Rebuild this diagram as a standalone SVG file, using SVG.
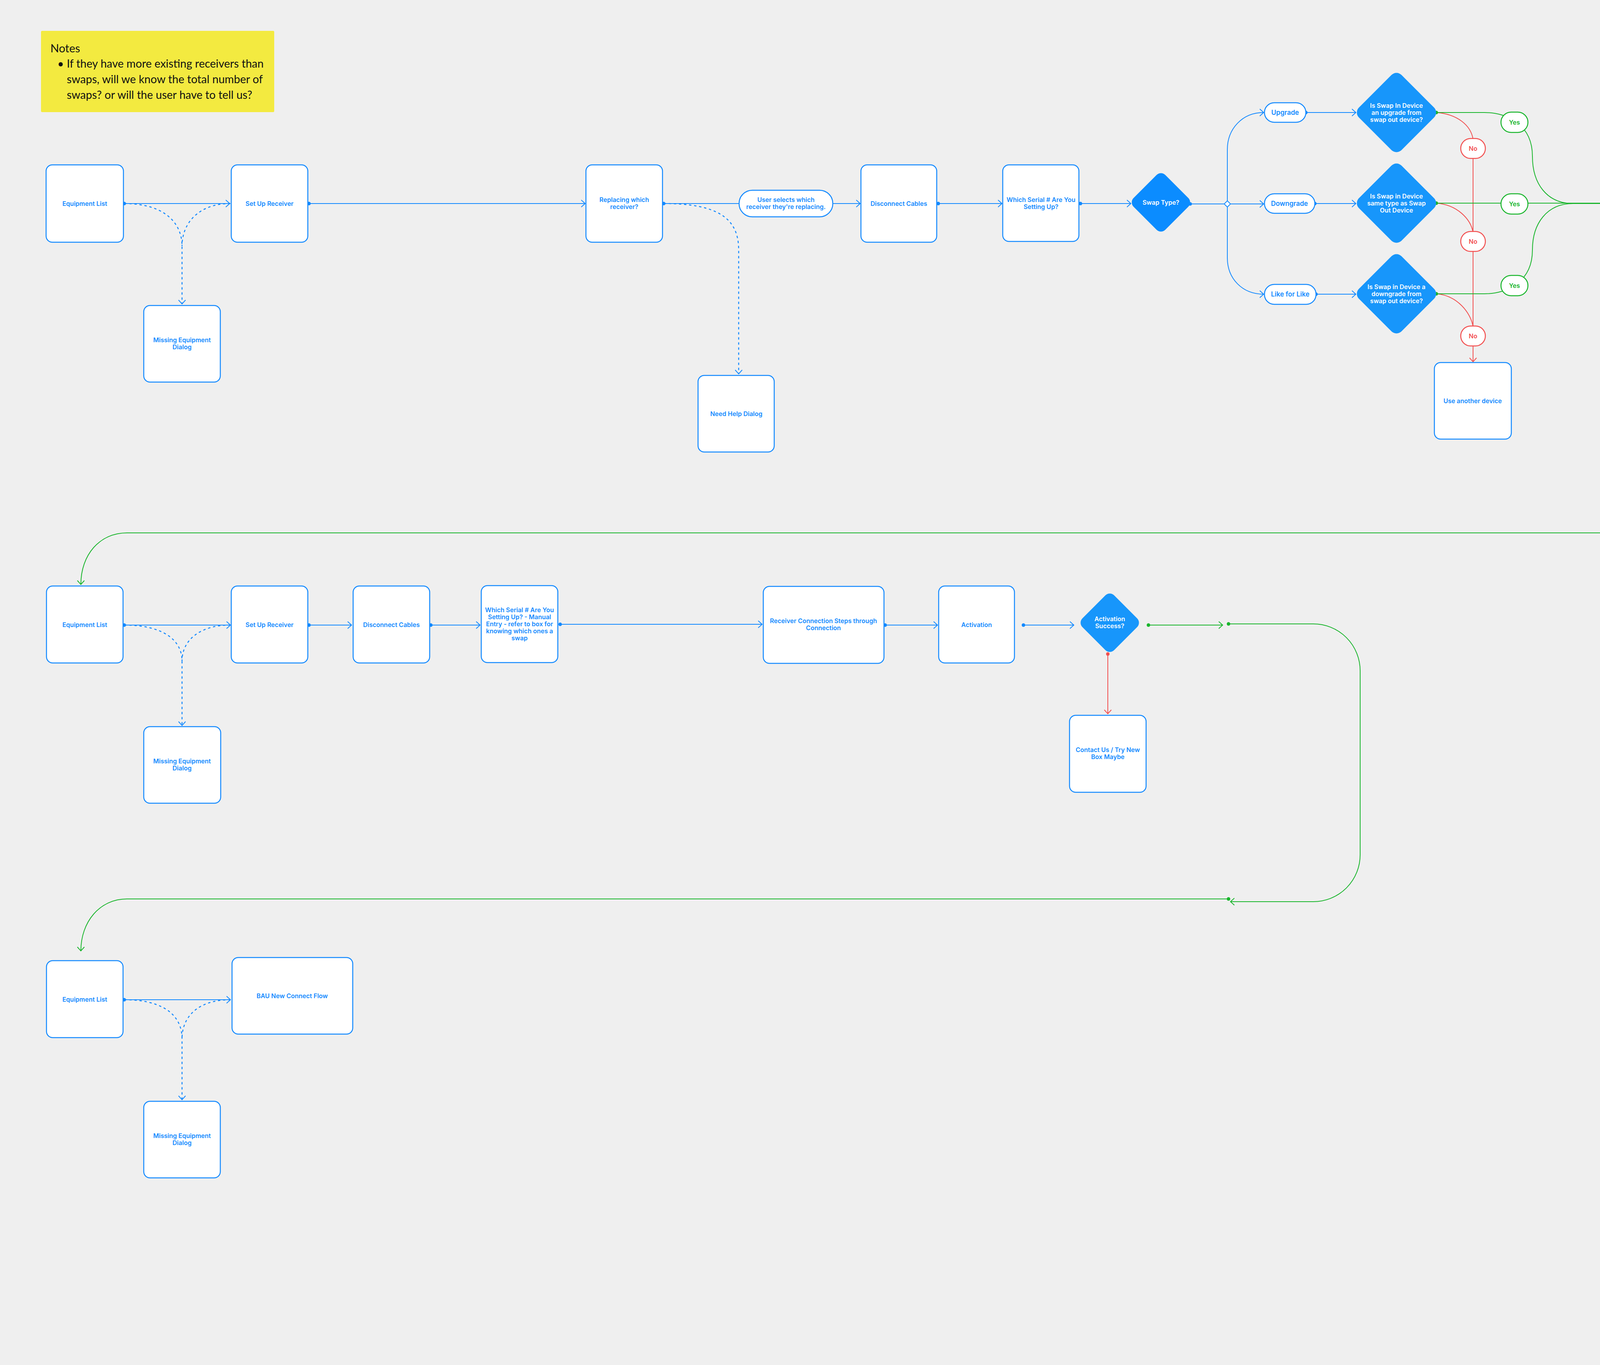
<svg xmlns="http://www.w3.org/2000/svg" width="5925" height="3494" viewBox="0 0 5925 3494">
<style>
.bg{fill:#efefef}
.box{fill:#fff;stroke:#1289ff;stroke-width:2.5}
.pill{fill:#fff;stroke:#1289ff;stroke-width:2.5}
.dia{fill:#1796fb}
.dia0{fill:#0b8cff}
.t{font-family:Inter,"Noto Sans",sans-serif;font-size:16px;font-weight:600;fill:#1289ff;text-anchor:middle}
.tw{font-family:Inter,"Noto Sans",sans-serif;font-size:16px;font-weight:600;fill:#fff;text-anchor:middle}
.tp{font-family:Inter,"Noto Sans",sans-serif;font-size:17px;font-weight:600;fill:#1289ff;text-anchor:middle}
.yes{fill:#fff;stroke:#18b52b;stroke-width:2.5}
.no{fill:#fff;stroke:#f24f4f;stroke-width:2.5}
.ty{font-family:Inter,"Noto Sans",sans-serif;font-size:16px;font-weight:600;fill:#18b52b;text-anchor:middle}
.tn{font-family:Inter,"Noto Sans",sans-serif;font-size:16px;font-weight:600;fill:#f24f4f;text-anchor:middle}
.note{fill:#f3ea40}
.nt{font-family:Lato,"Noto Sans",sans-serif;font-size:28.5px;fill:#111}
.nh{font-family:Lato,"Noto Sans",sans-serif;font-size:29px;fill:#111}
.cb{fill:none;stroke:#1289ff;stroke-width:2}
.cd{fill:none;stroke:#1289ff;stroke-width:2.5;stroke-dasharray:6 7}
.cg{fill:none;stroke:#18b52b;stroke-width:2}
.cr{fill:none;stroke:#f24f4f;stroke-width:2}
.db{fill:#1289ff}
.dg{fill:#18b52b}
.dr{fill:#f24f4f}
</style>
<defs>
<marker id="ab" markerUnits="userSpaceOnUse" markerWidth="16" markerHeight="22" viewBox="-13 -11 16 22" refX="0" refY="0" orient="auto"><path d="M-10,-9 L0,0 L-10,9" fill="none" stroke="#1289ff" stroke-width="2"/></marker>
<marker id="ag" markerUnits="userSpaceOnUse" markerWidth="16" markerHeight="22" viewBox="-13 -11 16 22" refX="0" refY="0" orient="auto"><path d="M-10,-9 L0,0 L-10,9" fill="none" stroke="#18b52b" stroke-width="2"/></marker>
<marker id="ar" markerUnits="userSpaceOnUse" markerWidth="16" markerHeight="22" viewBox="-13 -11 16 22" refX="0" refY="0" orient="auto"><path d="M-10,-9 L0,0 L-10,9" fill="none" stroke="#f24f4f" stroke-width="2"/></marker>
</defs>
<rect class="bg" x="0" y="0" width="5925" height="3494"/>

<g id="connectors">
<path class="cb" d="M318,521 H588" marker-end="url(#ab)"/>
<path class="cd" d="M318,521 C420,521 466,570 466,630 V778" marker-end="url(#ab)"/>
<path class="cd" d="M590,521 C510,521 466,570 466,630"/>
<path class="cb" d="M791,521 H1498" marker-end="url(#ab)"/>
<path class="cb" d="M1699,521 H2202" marker-end="url(#ab)"/>
<path class="cd" d="M1699,521 C1840,521 1891,560 1891,640 V957" marker-end="url(#ab)"/>
<path class="cb" d="M2402,521 H2565" marker-end="url(#ab)"/>
<path class="cb" d="M2766,521 H2895" marker-end="url(#ab)"/>
<path class="cb" d="M3047,522 H3235" marker-end="url(#ab)"/>
<path class="cb" d="M3142,522 V383 C3142,330 3180,288 3235,288" marker-end="url(#ab)"/>
<path class="cb" d="M3142,522 V660 C3142,713 3180,753 3235,753" marker-end="url(#ab)"/>
<path class="cb" d="M3343,288 H3471" marker-end="url(#ab)"/>
<path class="cb" d="M3366,521 H3471" marker-end="url(#ab)"/>
<path class="cb" d="M3369,753 H3471" marker-end="url(#ab)"/>
<path class="cb" d="M4482,521 H4612" marker-end="url(#ab)"/>
<path class="cb" d="M4836,521 H4963" marker-end="url(#ab)"/>
<path class="cr" d="M3677,288 C3730,292 3765,320 3771,356"/>
<path class="cr" d="M3677,520 C3730,524 3765,560 3771,595"/>
<path class="cr" d="M3677,752 C3730,756 3765,800 3771,836"/>
<path class="cr" d="M3771,356 V926" marker-end="url(#ar)"/>
<path class="cr" d="M5052,596 V747" marker-end="url(#ar)"/>
<path class="cg" d="M3677,288 H3800 C3860,288 3923,320 3923,400 C3923,470 3960,521 4027,521 H4168" marker-end="url(#ag)"/>
<path class="cg" d="M3677,520 H4168" marker-end="url(#ag)"/>
<path class="cg" d="M3677,752 H3800 C3860,752 3923,720 3923,640 C3923,572 3960,521 4027,521"/>
<path class="cg" d="M5155,522 H5346" marker-end="url(#ag)"/>
<path class="cg" d="M5355,530 H5573 A120,120 0 0 1 5693,650 V1248 A120,120 0 0 1 5573,1368 H5362" marker-end="url(#ag)"/>
<path class="cg" d="M5361,1364 H325 C255,1364 207,1420 207,1496" marker-end="url(#ag)"/>
<path class="cb" d="M318,1600 H590" marker-end="url(#ab)"/>
<path class="cd" d="M318,1600 C420,1600 466,1640 466,1692 V1857" marker-end="url(#ab)"/>
<path class="cd" d="M590,1600 C510,1600 466,1640 466,1692"/>
<path class="cb" d="M791,1600 H900" marker-end="url(#ab)"/>
<path class="cb" d="M1103,1600 H1229" marker-end="url(#ab)"/>
<path class="cb" d="M1434,1598 H1951" marker-end="url(#ab)"/>
<path class="cb" d="M2266,1600 H2400" marker-end="url(#ab)"/>
<path class="cb" d="M2620,1600 H2749" marker-end="url(#ab)"/>
<path class="cr" d="M2836,1674 V1827" marker-end="url(#ar)"/>
<path class="cg" d="M2940,1600 H3130" marker-end="url(#ag)"/>
<path class="cg" d="M3145,1597 H3362 A120,120 0 0 1 3482,1717 V2188 A120,120 0 0 1 3362,2308 H3150" marker-end="url(#ag)"/>
<path class="cg" d="M3145,2301 H325 C255,2301 207,2360 207,2434" marker-end="url(#ag)"/>
<path class="cb" d="M318,2559 H590" marker-end="url(#ab)"/>
<path class="cd" d="M318,2559 C420,2559 466,2600 466,2659 V2815" marker-end="url(#ab)"/>
<path class="cd" d="M590,2559 C510,2559 466,2600 466,2659"/>
<circle class="db" cx="318" cy="521" r="4.5"/>
<circle class="db" cx="791" cy="521" r="4.5"/>
<circle class="db" cx="1699" cy="521" r="4.5"/>
<circle class="db" cx="2402" cy="521" r="4.5"/>
<circle class="db" cx="2766" cy="521" r="4.5"/>
<circle class="db" cx="3047" cy="522" r="4.5"/>
<circle class="db" cx="3343" cy="288" r="4.5"/>
<circle class="db" cx="3366" cy="521" r="4.5"/>
<circle class="db" cx="3369" cy="753" r="4.5"/>
<circle class="db" cx="4482" cy="521" r="4.5"/>
<circle class="db" cx="4836" cy="521" r="4.5"/>
<circle class="dg" cx="3677" cy="288" r="4.5"/>
<circle class="dg" cx="3677" cy="520" r="4.5"/>
<circle class="dg" cx="3677" cy="752" r="4.5"/>
<circle class="dg" cx="5155" cy="522" r="4.5"/>
<circle class="dg" cx="5355" cy="530" r="4.5"/>
<circle class="dg" cx="5361" cy="1364" r="4.5"/>
<circle class="dr" cx="5052" cy="596" r="4.5"/>
<circle class="db" cx="318" cy="1600" r="4.5"/>
<circle class="db" cx="791" cy="1600" r="4.5"/>
<circle class="db" cx="1103" cy="1600" r="4.5"/>
<circle class="db" cx="1434" cy="1598" r="4.5"/>
<circle class="db" cx="2266" cy="1600" r="4.5"/>
<circle class="db" cx="2620" cy="1600" r="4.5"/>
<circle class="dr" cx="2836" cy="1674" r="4.5"/>
<circle class="dg" cx="2940" cy="1600" r="4.5"/>
<circle class="dg" cx="3145" cy="1597" r="4.5"/>
<circle class="dg" cx="3145" cy="2301" r="4.5"/>
<circle class="db" cx="318" cy="2559" r="4.5"/>
<path d="M3142,514 L3150,522 L3142,530 L3134,522 Z" fill="#fff" stroke="#1289ff" stroke-width="2"/>
</g>

<g id="notes1">
<rect class="note" x="105" y="79" width="597" height="208" rx="3"/>
<text class="nh" x="129" y="134">Notes</text>
<text class="nt" x="147" y="173">•</text>
<text class="nt" x="171" y="173">If they have more existing receivers than</text>
<text class="nt" x="171" y="213">swaps, will we know the total number of</text>
<text class="nt" x="171" y="253">swaps? or will the user have to tell us?</text>
</g>

<g id="eq1"><rect class="box" x="118" y="422" width="198" height="198" rx="16"/><text class="t" x="217" y="527">Equipment List</text></g>
<g id="setup1"><rect class="box" x="592" y="422" width="196" height="198" rx="16"/><text class="t" x="690" y="527">Set Up Receiver</text></g>
<g id="missing1"><rect class="box" x="368" y="782" width="196" height="196" rx="16"/><text class="t" x="466" y="876">Missing Equipment<tspan x="466" dy="18">Dialog</tspan></text></g>
<g id="replacing"><rect class="box" x="1500" y="422" width="196" height="198" rx="16"/><text class="t" x="1598" y="517">Replacing which<tspan x="1598" dy="18">receiver?</tspan></text></g>
<g id="userselects"><rect class="pill" x="1892" y="487" width="240" height="68" rx="34"/><text class="t" x="2012" y="517">User selects which<tspan x="2012" dy="18">receiver they're replacing.</tspan></text></g>
<g id="needhelp"><rect class="box" x="1787" y="961" width="195" height="196" rx="16"/><text class="t" x="1885" y="1065">Need Help Dialog</text></g>
<g id="disconnect1"><rect class="box" x="2204" y="422" width="194" height="198" rx="16"/><text class="t" x="2301" y="527">Disconnect Cables</text></g>
<g id="serial1"><rect class="box" x="2567" y="422" width="195" height="196" rx="16"/><text class="t" x="2665" y="517">Which Serial # Are You<tspan x="2665" dy="18">Setting Up?</tspan></text></g>
<g id="swaptype"><rect class="dia0" x="2914.5" y="460.5" width="115" height="115" rx="16" transform="rotate(45 2972 518)"/><text class="tw" x="2972" y="524">Swap Type?</text></g>
<g id="upgrade"><rect class="pill" x="3237" y="263" width="106" height="50" rx="25"/><text class="tp" x="3290" y="294">Upgrade</text></g>
<g id="downgrade"><rect class="pill" x="3237" y="496" width="129" height="50" rx="25"/><text class="tp" x="3301" y="527">Downgrade</text></g>
<g id="likeforlike"><rect class="pill" x="3237" y="728" width="132" height="51" rx="25"/><text class="tp" x="3303" y="759">Like for Like</text></g>
<g id="dec-upgrade"><rect class="dia" x="3498" y="211" width="154" height="154" rx="18" transform="rotate(45 3575 288)"/><text class="tw" x="3575" y="276">Is Swap In Device<tspan x="3575" dy="18">an upgrade from</tspan><tspan x="3575" dy="18">swap out device?</tspan></text></g>
<g id="dec-same"><rect class="dia" x="3498" y="443" width="154" height="154" rx="18" transform="rotate(45 3575 520)"/><text class="tw" x="3575" y="508">Is Swap in Device<tspan x="3575" dy="18">same type as Swap</tspan><tspan x="3575" dy="18">Out Device</tspan></text></g>
<g id="dec-downgrade"><rect class="dia" x="3498" y="675" width="154" height="154" rx="18" transform="rotate(45 3575 752)"/><text class="tw" x="3575" y="740">Is Swap in Device a<tspan x="3575" dy="18">downgrade from</tspan><tspan x="3575" dy="18">swap out device?</tspan></text></g>
<g id="yes1"><rect class="yes" x="3842.5" y="287" width="69" height="52" rx="26"/><text class="ty" x="3877" y="319">Yes</text></g>
<g id="yes2"><rect class="yes" x="3842.5" y="496" width="69" height="52" rx="26"/><text class="ty" x="3877" y="528">Yes</text></g>
<g id="yes3"><rect class="yes" x="3842.5" y="705" width="69" height="52" rx="26"/><text class="ty" x="3877" y="737">Yes</text></g>
<g id="no1"><rect class="no" x="3739.5" y="354.5" width="63" height="51" rx="25.5"/><text class="tn" x="3771" y="386">No</text></g>
<g id="no2"><rect class="no" x="3739.5" y="592.5" width="63" height="51" rx="25.5"/><text class="tn" x="3771" y="624">No</text></g>
<g id="no3"><rect class="no" x="3739.5" y="834.5" width="63" height="51" rx="25.5"/><text class="tn" x="3771" y="866">No</text></g>
<g id="useanother"><rect class="box" x="3672" y="928" width="197" height="196" rx="16"/><text class="t" x="3770" y="1032">Use another device</text></g>
<g id="receiver1"><rect class="box" x="4170" y="423" width="309" height="197" rx="16"/><text class="t" x="4325" y="517">Receiver Connection Steps through<tspan x="4325" dy="18">Connection</tspan></text></g>
<g id="activation1"><rect class="box" x="4619" y="422" width="196" height="197" rx="16"/><text class="t" x="4717" y="527">Activation</text></g>
<g id="actsuccess1"><rect class="dia" x="4999.5" y="458.5" width="115" height="115" rx="16" transform="rotate(45 5057 516)"/><text class="tw" x="5057" y="512">Activation<tspan x="5057" dy="18">Success?</tspan></text></g>
<g id="contact1"><rect class="box" x="4954" y="753" width="196" height="196" rx="16"/><text class="t" x="5052" y="847">Contact Us / Try New<tspan x="5052" dy="18">Box Maybe</tspan></text></g>

<g id="notes2">
<rect class="note" x="4977" y="986" width="596" height="247" rx="3"/>
<text class="nh" x="5002" y="1041">Notes</text>
<text class="nt" x="5019" y="1080">•</text>
<text class="nt" x="5044" y="1080">Do we have a reason to tell why it</text>
<text class="nt" x="5044" y="1120">failed? Could we tell the user that we</text>
<text class="nt" x="5044" y="1160">know it failed because they used the</text>
<text class="nt" x="5044" y="1200">wrong box?</text>
</g>

<g id="eq2"><rect class="box" x="119" y="1500" width="196" height="197" rx="16"/><text class="t" x="217" y="1605">Equipment List</text></g>
<g id="setup2"><rect class="box" x="592" y="1500" width="196" height="197" rx="16"/><text class="t" x="690" y="1605">Set Up Receiver</text></g>
<g id="missing2"><rect class="box" x="368" y="1860" width="197" height="196" rx="16"/><text class="t" x="466" y="1954">Missing Equipment<tspan x="466" dy="18">Dialog</tspan></text></g>
<g id="disconnect2"><rect class="box" x="904" y="1500" width="196" height="197" rx="16"/><text class="t" x="1002" y="1605">Disconnect Cables</text></g>
<g id="serial2"><rect class="box" x="1232" y="1499" width="196" height="197" rx="16"/><text class="t" x="1330" y="1567">Which Serial # Are You<tspan x="1330" dy="18">Setting Up? - Manual</tspan><tspan x="1330" dy="18">Entry - refer to box for</tspan><tspan x="1330" dy="18">knowing which ones a</tspan><tspan x="1330" dy="18">swap</tspan></text></g>
<g id="receiver2"><rect class="box" x="1954" y="1501" width="309" height="197" rx="16"/><text class="t" x="2108" y="1595">Receiver Connection Steps through<tspan x="2108" dy="18">Connection</tspan></text></g>
<g id="activation2"><rect class="box" x="2403" y="1500" width="194" height="197" rx="16"/><text class="t" x="2500" y="1605">Activation</text></g>
<g id="actsuccess2"><rect class="dia" x="2783.5" y="1536.5" width="115" height="115" rx="16" transform="rotate(45 2841 1594)"/><text class="tw" x="2841" y="1590">Activation<tspan x="2841" dy="18">Success?</tspan></text></g>
<g id="contact2"><rect class="box" x="2738" y="1831" width="196" height="197" rx="16"/><text class="t" x="2836" y="1925">Contact Us / Try New<tspan x="2836" dy="18">Box Maybe</tspan></text></g>

<g id="eq3"><rect class="box" x="119" y="2459" width="196" height="197" rx="16"/><text class="t" x="217" y="2564">Equipment List</text></g>
<g id="bau"><rect class="box" x="594" y="2451" width="309" height="196" rx="16"/><text class="t" x="748" y="2555">BAU New Connect Flow</text></g>
<g id="missing3"><rect class="box" x="368" y="2819" width="196" height="196" rx="16"/><text class="t" x="466" y="2913">Missing Equipment<tspan x="466" dy="18">Dialog</tspan></text></g>
</svg>
